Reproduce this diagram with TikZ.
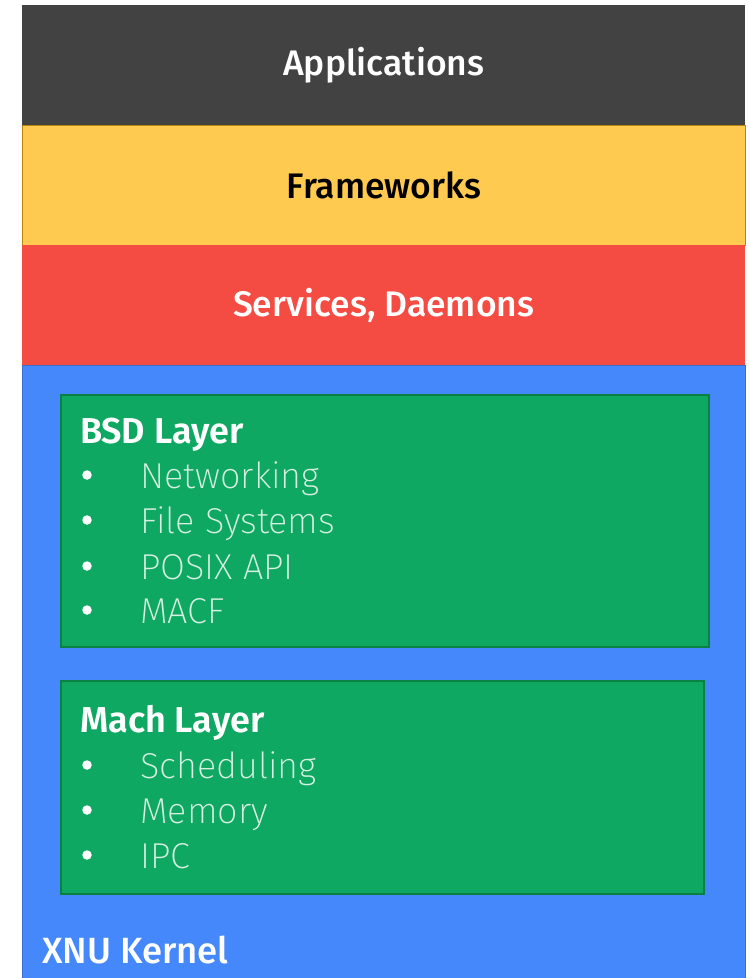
\documentclass[tikz,border=0pt]{standalone}
\usepackage{fontspec}
\setmainfont{Fira Sans}
\newfontfamily\lightfont{Fira Sans ExtraLight}
\newfontfamily\medfont{Fira Sans Medium}
\newfontfamily\semifont{Fira Sans SemiBold}
\definecolor{appgray}{HTML}{424242}
\definecolor{fwyellow}{HTML}{FFCA4F}
\definecolor{fwborder}{HTML}{B8860B}
\definecolor{svcred}{HTML}{F44B42}
\definecolor{xnublue}{HTML}{4488FB}
\definecolor{xnuborder}{HTML}{3A70CC}
\definecolor{laygreen}{HTML}{0FA862}
\definecolor{layborder}{HTML}{0B8043}
\definecolor{itemtext}{HTML}{D8F0E2}
\begin{document}
\begin{tikzpicture}[x=1pt,y=-1pt,
  band/.style={rectangle, anchor=north west, inner sep=0pt, minimum width=723pt, minimum height=120pt},
  bandtext/.style={font=\medfont\fontsize{35.5}{36}\selectfont},
  layerbox/.style={rectangle, anchor=north west, inner sep=0pt, fill=laygreen, draw=layborder, line width=1.5pt},
  layhead/.style={anchor=base west, inner sep=0pt, text=white, font=\semifont\fontsize{36}{36}\selectfont},
  item/.style={anchor=base west, inner sep=0pt, text=itemtext, font=\lightfont\fontsize{36}{36}\selectfont},
  bul/.style={circle, fill=white, inner sep=0pt, minimum size=9.5pt}
]
\useasboundingbox (0,0) rectangle (749,978);
\fill[white] (0,0) rectangle (749,978);
% bands
\node[band, fill=appgray] (apps) at (22,5) {};
\node[bandtext, text=white] (appsT) at (apps.center) {Applications};
\node[band, fill=fwyellow, draw=fwborder, line width=1.2pt] (fw) at (22,125) {};
\node[bandtext, text=black] (fwT) at (fw.center) {Frameworks};
\node[band, fill=svcred] (svc) at (22,245) {};
\node[bandtext, text=white] (svcT) at (svc.center) {Services, Daemons};
\node[band, fill=xnublue, draw=xnuborder, line width=1pt, minimum height=620pt] (xnu) at (22,365) {};
% BSD layer
\node[layerbox, minimum width=648pt, minimum height=252pt] (bsd) at (60,394) {};
\node[layhead] (bsdH) at (80,443) {BSD Layer};
\node[bul] (b1) at (87,475) {};
\node[item] (i1) at (140,488) {Networking};
\node[bul] (b2) at (87,520) {};
\node[item] (i2) at (140,533) {File Systems};
\node[bul] (b3) at (87,566) {};
\node[item] (i3) at (140,579) {POSIX API};
\node[bul] (b4) at (87,610) {};
\node[item] (i4) at (140,623) {MACF};
% Mach layer
\node[layerbox, minimum width=643pt, minimum height=213pt] (mach) at (60,680) {};
\node[layhead] (machH) at (80,732) {Mach Layer};
\node[bul] (m1) at (87,765) {};
\node[item] (j1) at (140,778) {Scheduling};
\node[bul] (m2) at (87,810) {};
\node[item] (j2) at (140,823) {Memory};
\node[bul] (m3) at (87,855) {};
\node[item] (j3) at (140,868) {IPC};
% XNU label
\node[anchor=base west, inner sep=0pt, text=white, font=\medfont\fontsize{36.5}{37}\selectfont] (xnuT) at (42,963) {XNU Kernel};
\end{tikzpicture}
\end{document}
